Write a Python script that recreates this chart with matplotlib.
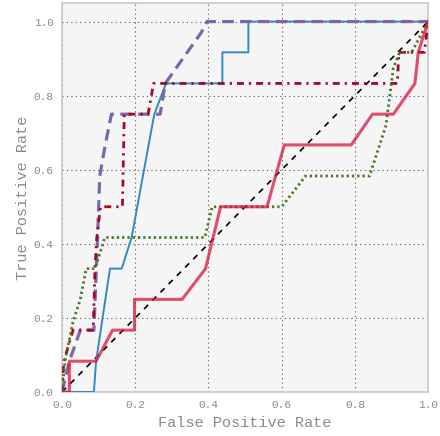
import matplotlib
matplotlib.use("Agg")
import matplotlib.pyplot as plt

# ROC curve vertices (false positive rate, true positive rate) for each model
fpr_blue = [0.0, 0.087, 0.093, 0.131, 0.163, 0.19, 0.252, 0.284, 0.438, 0.438, 0.509, 0.509, 1.0]
tpr_blue = [0.0, 0.0, 0.083, 0.333, 0.333, 0.417, 0.75, 0.833, 0.833, 0.917, 0.917, 1.0, 1.0]

fpr_purple = [0.0, 0.02, 0.05, 0.087, 0.097, 0.103, 0.118, 0.135, 0.268, 0.282, 0.38, 0.396, 1.0]
tpr_purple = [0.0, 0.083, 0.167, 0.167, 0.417, 0.583, 0.667, 0.75, 0.75, 0.833, 0.97, 1.0, 1.0]

fpr_red = [0.0, 0.005, 0.03, 0.085, 0.09, 0.095, 0.105, 0.165, 0.17, 0.235, 0.25, 0.916, 0.92, 0.99, 1.0]
tpr_red = [0.0, 0.083, 0.167, 0.167, 0.333, 0.417, 0.5, 0.5, 0.75, 0.75, 0.833, 0.833, 0.917, 0.917, 1.0]

fpr_green = [0.0, 0.008, 0.03, 0.05, 0.066, 0.09, 0.117, 0.39, 0.41, 0.6, 0.665, 0.84, 0.885, 0.905, 0.922, 0.955, 1.0]
tpr_green = [0.0, 0.083, 0.19, 0.25, 0.333, 0.333, 0.417, 0.417, 0.5, 0.5, 0.583, 0.583, 0.72, 0.875, 0.917, 0.917, 1.0]

fpr_crimson = [0.0, 0.02, 0.02, 0.093, 0.138, 0.198, 0.198, 0.328, 0.392, 0.433, 0.56, 0.607, 0.79, 0.848, 0.905, 0.964, 0.973, 1.0]
tpr_crimson = [0.0, 0.0, 0.083, 0.083, 0.167, 0.167, 0.25, 0.25, 0.333, 0.5, 0.5, 0.667, 0.667, 0.75, 0.75, 0.833, 0.917, 1.0]

ticks = [0.0, 0.2, 0.4, 0.6, 0.8, 1.0]

plt.rcParams['font.family'] = ['Liberation Mono', 'DejaVu Sans Mono']

fig = plt.figure(figsize=(4.4, 4.36), dpi=100)
ax = fig.add_axes([0.141, 0.101, 0.832, 0.892])
ax.set_facecolor('#f5f5f5')

ax.plot([0, 1], [0, 1], color='black', lw=1.2, ls=(0, (3.5, 3.5)), zorder=2)
ax.plot(fpr_blue, tpr_blue, color='#348ABD', lw=1.4, zorder=3)
ax.plot(fpr_purple, tpr_purple, color='#7A68A6', lw=2.3, ls=(0, (3.6, 2.0)), zorder=3)
ax.plot(fpr_red, tpr_red, color='#A60628', lw=2.0, ls=(0, (2.5, 1.8, 0.8, 1.8)), zorder=3)
ax.plot(fpr_green, tpr_green, color='#467821', lw=2.0, ls=(0, (0.8, 1.1)), zorder=3)
ax.plot(fpr_crimson, tpr_crimson, color='#DC143C', alpha=0.75, lw=2.2, zorder=4)

ax.set_xlim(0, 1)
ax.set_ylim(0, 1.05)
ax.set_xticks(ticks)
ax.set_yticks(ticks)
ax.set_xticklabels([f"{t:.1f}" for t in ticks])
ax.set_yticklabels([f"{t:.1f}" for t in ticks])
ax.tick_params(length=0, labelsize=8, labelcolor='#8a8a8a', pad=6)
ax.grid(True, color='#555555', ls=(0, (1, 3)), lw=0.8)
ax.set_axisbelow(True)
for s in ax.spines.values():
    s.set_color('#c8c8c8')
    s.set_linewidth(1.2)

ax.set_xlabel('False Positive Rate', fontsize=11, color='#8a8a8a', labelpad=4)
ax.set_ylabel('True Positive Rate', fontsize=11, color='#8a8a8a', labelpad=3)

fig.savefig('out.png', dpi=100)
